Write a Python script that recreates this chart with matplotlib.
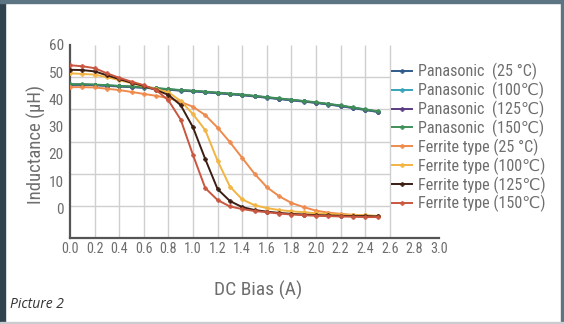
import matplotlib
matplotlib.use("Agg")
import matplotlib.pyplot as plt
from matplotlib.patches import Rectangle
from matplotlib import font_manager as fm
import numpy as np

# ---------------- data ----------------
current = [round(0.1 * i, 1) for i in range(26)]  # DC bias (A)

pana_25 = [47.6, 47.6, 47.5, 47.3, 47.1, 46.9, 46.7, 46.4, 46.1, 45.8, 45.6, 45.3, 45.0, 44.7,
           44.4, 44.0, 43.6, 43.2, 42.8, 42.4, 42.0, 41.5, 41.0, 40.4, 39.8, 39.2]
pana_100 = [47.7, 47.7, 47.6, 47.4, 47.2, 47.0, 46.8, 46.5, 46.2, 45.9, 45.7, 45.4, 45.1, 44.8,
            44.5, 44.1, 43.7, 43.3, 42.9, 42.5, 42.1, 41.6, 41.1, 40.5, 39.9, 39.3]
pana_125 = [47.7, 47.7, 47.6, 47.4, 47.2, 47.0, 46.8, 46.5, 46.2, 45.9, 45.7, 45.4, 45.1, 44.8,
            44.5, 44.1, 43.7, 43.3, 42.9, 42.5, 42.1, 41.6, 41.1, 40.5, 39.9, 39.3]
pana_150 = [47.8, 47.8, 47.7, 47.5, 47.3, 47.1, 46.9, 46.6, 46.3, 46.0, 45.8, 45.5, 45.2, 44.9,
            44.6, 44.2, 43.8, 43.4, 43.0, 42.6, 42.2, 41.7, 41.2, 40.6, 40.0, 39.4]

ferr_25 = [46.9, 46.9, 46.8, 46.4, 46.0, 45.4, 44.8, 44.2, 43.5, 42.3, 40.8, 38.2, 34.3, 29.8,
           24.9, 20.0, 15.8, 13.0, 10.9, 9.6, 8.5, 7.9, 7.5, 7.2, 7.0, 6.8]
ferr_100 = [51.2, 51.0, 50.8, 50.0, 49.1, 48.1, 47.2, 46.3, 45.3, 42.6, 38.5, 33.5, 24.0, 16.0,
            12.0, 10.2, 9.3, 8.7, 8.3, 8.0, 7.7, 7.5, 7.3, 7.1, 7.0, 6.9]
ferr_125 = [52.3, 52.2, 51.8, 50.6, 49.4, 48.3, 47.3, 46.0, 44.5, 41.3, 34.4, 24.5, 15.2, 11.5,
            9.6, 8.7, 8.2, 7.8, 7.5, 7.3, 7.1, 7.0, 6.9, 6.8, 6.8, 6.7]
ferr_150 = [53.7, 53.4, 52.8, 51.2, 49.8, 48.6, 47.5, 46.0, 42.8, 36.8, 25.8, 15.5, 11.8, 9.8,
            9.0, 8.4, 8.0, 7.6, 7.3, 7.1, 6.9, 6.8, 6.7, 6.6, 6.5, 6.5]

series_labels = ["Panasonic  (25 °C)", "Panasonic  (100℃)", "Panasonic  (125℃)", "Panasonic  (150℃)",
                 "Ferrite type (25 °C)", "Ferrite type (100℃)", "Ferrite type (125℃)", "Ferrite type (150℃)"]
series_values = [pana_25, pana_100, pana_125, pana_150, ferr_25, ferr_100, ferr_125, ferr_150]
series_colors = ["#2f5a8a", "#36a3b8", "#5a3a80", "#3f8f58",
                 "#ee8a4c", "#f2b443", "#3b1d12", "#c9563e"]

x_ticks = [round(0.2 * i, 1) for i in range(16)]
x_tick_labels = [f"{v:.1f}" for v in x_ticks]
y_ticks = [0, 10, 20, 30, 40, 50, 60]
grid_x = [round(0.2 * i, 1) for i in range(1, 14)]
grid_y = [10, 20, 30, 40, 50]

# ---------------- fonts ----------------
entries = fm.fontManager.ttflist
names = {f.name for f in entries}
cond = None
for cand in ["Liberation Sans Narrow", "Roboto Condensed", "DejaVu Sans Condensed",
             "Open Sans Condensed", "Noto Sans Condensed", "Arial Narrow"]:
    if cand in names:
        cond = (cand, "normal")
        break
if cond is None:
    for f in entries:
        if str(f.stretch) in ("condensed", "semi-condensed", "extra-condensed") or \
                (isinstance(f.stretch, int) and f.stretch < 500):
            if f.style == "normal" and f.name in ("DejaVu Sans", "Noto Sans", "Open Sans", "Roboto", "Lato", "Inter"):
                cond = (f.name, "condensed")
                break
if cond is None:
    cond = ("Roboto", "normal")
    SC = 0.86
else:
    SC = 1.0
FAM = [cond[0], "DejaVu Sans"]
STR = cond[1]
TXT = "#6e6e6e"

fig = plt.figure(figsize=(5.64, 3.24), dpi=100)
fig.patch.set_facecolor("white")

# frame of the screenshot
fig.add_artist(Rectangle((0, 0), 5 / 564, 1, transform=fig.transFigure, color="#30444f", zorder=0))
fig.add_artist(Rectangle((0, 1 - 3 / 324), 1, 3 / 324, transform=fig.transFigure, color="#5d7482", zorder=0))
fig.add_artist(Rectangle((1 - 3 / 564, 0), 3 / 564, 1, transform=fig.transFigure, color="#5d7482", zorder=0))
fig.add_artist(Rectangle((0, 0), 1, 2 / 324, transform=fig.transFigure, color="#c9cdd0", zorder=0))

ax = fig.add_axes([70 / 564, (324 - 238) / 324, 369 / 564, 193 / 324])
ax.set_xlim(0, 3.0)
ax.set_ylim(0, 60)

ax.vlines(grid_x, 0, 60, colors="#cfcfcf", lw=1.0, zorder=1)
ax.hlines(grid_y, 0, 2.6, colors="#cfcfcf", lw=1.0, zorder=1)

for vals, col, lab in zip(series_values, series_colors, series_labels):
    ax.plot(current, vals, color=col, lw=1.4, marker="P", ms=3.0, mew=0.4, label=lab, zorder=3)

for s in ["top", "right"]:
    ax.spines[s].set_visible(False)
for s in ["left", "bottom"]:
    ax.spines[s].set_color("#555555")
    ax.spines[s].set_linewidth(1.6)

ax.set_xticks(x_ticks)
ax.set_xticklabels(x_tick_labels, family=FAM, stretch=STR, fontsize=10.2 * SC, color=TXT)
ax.tick_params(axis="x", length=0, pad=3)
ax.set_yticks([])

ax2 = ax.twinx()
ax2.set_ylim(-10.9, 59.3)
ax2.set_yticks(y_ticks)
ax2.set_yticklabels([str(v) for v in y_ticks], family=FAM, stretch=STR, fontsize=11 * SC, color=TXT)
ax2.yaxis.tick_left()
ax2.tick_params(axis="y", length=0, pad=4.5)
for s in ax2.spines.values():
    s.set_visible(False)

fig.text(36 / 564, 1 - 145 / 324, "Inductance (µH)", rotation=90, ha="center", va="center",
         family=FAM, stretch=STR, fontsize=13.5 * SC, color=TXT)
fig.text(258 / 564, 1 - 290 / 324, "DC Bias (A)", ha="center", va="center",
         family=FAM, stretch=STR, fontsize=14 * SC, color=TXT)
fig.text(10 / 564, 1 - 305 / 324, "Picture 2", ha="left", va="center",
         family=["Open Sans", "DejaVu Sans"], style="italic", fontsize=10, color="#333333")

leg = ax.legend(loc="upper left", bbox_to_anchor=(392 / 564, 1 - 63 / 324), bbox_transform=fig.transFigure,
                frameon=False, prop={"family": FAM, "stretch": STR, "size": 11.6 * SC},
                handlelength=1.25, handletextpad=0.35,
                labelspacing=0.1 / SC + (0.25 if SC < 1 else 0), borderaxespad=0, borderpad=0)
for t in leg.get_texts():
    t.set_color(TXT)

fig.savefig("out.png", dpi=100)
